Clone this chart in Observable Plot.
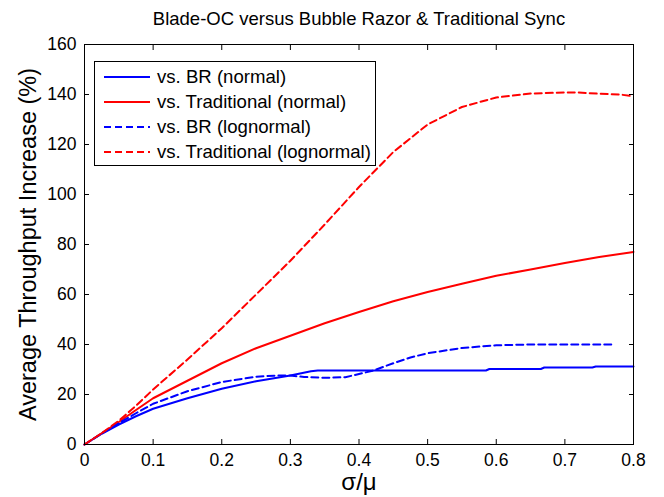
<!DOCTYPE html>
<html>
<head>
<meta charset="utf-8">
<script src="https://cdn.jsdelivr.net/npm/d3@7"></script>
<script src="https://cdn.jsdelivr.net/npm/@observablehq/plot@0.6"></script>
<style>
  body { margin: 0; background: #fff; font-family: "Liberation Sans", Arial, sans-serif; color: #000; }
  #wrap { position: relative; width: 664px; height: 497px; overflow: hidden; }
  #legend { position: absolute; left: 94px; top: 61px; width: 282px; height: 105px; border: 1px solid #000; background: #fff; box-sizing: border-box; }
  .row { position: absolute; left: 9px; height: 22px; display: flex; align-items: center; font-size: 18.6px; white-space: nowrap; }
  .row svg { margin-right: 7px; }
</style>
</head>
<body>
<div id="wrap">
  <div id="chart"></div>
  <div id="legend"></div>
</div>
<script>
// ---- data ----
const chartTitle = "Blade-OC versus Bubble Razor & Traditional Sync";
const xLabel = "σ/μ";
const yLabel = "Average Throughput Increase (%)";
const xTicks = [0, 0.1, 0.2, 0.3, 0.4, 0.5, 0.6, 0.7, 0.8];
const yTicks = [0, 20, 40, 60, 80, 100, 120, 140, 160];

const seriesNames = ["vs. BR (normal)", "vs. Traditional (normal)", "vs. BR (lognormal)", "vs. Traditional (lognormal)"];

const sigmaBRNormal = [0, 0.025, 0.05, 0.075, 0.1, 0.15, 0.2, 0.25, 0.3, 0.33, 0.34, 0.585, 0.59, 0.665, 0.67, 0.74, 0.745, 0.8];
const brNormal      = [0, 4.3, 8, 11.3, 14.3, 18.5, 22.3, 25.3, 27.6, 29.3, 29.6, 29.6, 30.2, 30.2, 30.8, 30.8, 31.2, 31.2];

const sigmaTradNormal = [0, 0.025, 0.05, 0.075, 0.1, 0.15, 0.2, 0.25, 0.3, 0.35, 0.4, 0.45, 0.5, 0.55, 0.6, 0.65, 0.7, 0.75, 0.8];
const tradNormal      = [0, 4.5, 9, 13.8, 18.5, 25.5, 32.5, 38.5, 43.5, 48.5, 53, 57.3, 61, 64.3, 67.5, 70, 72.6, 75, 77];

const sigmaBRLog = [0, 0.025, 0.05, 0.075, 0.1, 0.15, 0.2, 0.25, 0.28, 0.3, 0.32, 0.35, 0.38, 0.4, 0.42, 0.45, 0.475, 0.5, 0.55, 0.6, 0.65, 0.768];
const brLog      = [0, 4.4, 8.5, 12.5, 16.3, 21.3, 25, 27.1, 27.6, 27.6, 27, 26.7, 26.9, 28.2, 29.5, 32.5, 34.8, 36.5, 38.6, 39.7, 40, 40];

const sigmaTradLog = [0, 0.025, 0.05, 0.075, 0.1, 0.15, 0.2, 0.25, 0.3, 0.35, 0.4, 0.45, 0.5, 0.55, 0.6, 0.65, 0.7, 0.72, 0.75, 0.78, 0.8];
const tradLog      = [0, 4.5, 9.5, 15.5, 22, 34, 46.5, 60, 73.5, 88, 103, 117, 128, 135, 138.8, 140.4, 140.8, 140.8, 140.3, 140, 139.3];

const seriesColors = ["#0000ff", "#ff0000", "#0000ff", "#ff0000"];
const seriesDash = [null, null, "7,4", "7,4"];

// ---- build tables ----
const toRows = (xs, ys) => xs.map((x, i) => ({x, y: ys[i]}));
const seriesRows = [
  toRows(sigmaBRNormal, brNormal),
  toRows(sigmaTradNormal, tradNormal),
  toRows(sigmaBRLog, brLog),
  toRows(sigmaTradLog, tradLog)
];

const fmt = d => d === 0 ? "0" : String(d);

const chart = Plot.plot({
  width: 664,
  height: 497,
  marginTop: 44,
  marginBottom: 53,
  marginLeft: 84,
  marginRight: 31,
  x: {domain: [0, 0.8]},
  y: {domain: [0, 160]},
  style: {fontFamily: "'Liberation Sans', Arial, sans-serif", fontSize: "17.5px", color: "#000", background: "#fff"},
  marks: [
    ...seriesRows.map((rows, i) => Plot.line(rows, {
      x: "x", y: "y", stroke: seriesColors[i], strokeWidth: 2,
      strokeDasharray: seriesDash[i] || undefined
    })),
    Plot.frame({stroke: "#000", strokeWidth: 1}),
    Plot.axisX(xTicks, {anchor: "bottom", tickSize: -5, tickPadding: 14, tickFormat: fmt, label: null, fontSize: 17.5}),
    Plot.axisX(xTicks, {anchor: "top", tickSize: -5, tickFormat: () => "", label: null}),
    Plot.axisY(yTicks, {anchor: "left", tickSize: -5, tickPadding: 13, tickFormat: fmt, label: null, fontSize: 17.5}),
    Plot.axisY(yTicks, {anchor: "right", tickSize: -5, tickFormat: () => "", label: null}),
    Plot.text([chartTitle], {text: d => d, frameAnchor: "top", lineAnchor: "middle", dy: -25, fontSize: 18.5}),
    Plot.text([xLabel], {text: d => d, frameAnchor: "bottom", lineAnchor: "middle", dy: 38, fontSize: 24}),
    Plot.text([yLabel], {text: d => d, frameAnchor: "left", textAnchor: "middle", lineAnchor: "middle", dx: -56, rotate: -90, fontSize: 23.5})
  ]
});
document.getElementById("chart").appendChild(chart);

// ---- legend ----
const legend = document.getElementById("legend");
seriesNames.forEach((name, i) => {
  const row = document.createElement("div");
  row.className = "row";
  row.style.top = (4 + i * 25) + "px";
  const dash = seriesDash[i] ? `stroke-dasharray="${seriesDash[i]}"` : "";
  row.innerHTML = `<svg width="46" height="6"><line x1="0" y1="3" x2="46" y2="3" stroke="${seriesColors[i]}" stroke-width="2" ${dash}/></svg><span>${name}</span>`;
  legend.appendChild(row);
});
</script>
</body>
</html>
